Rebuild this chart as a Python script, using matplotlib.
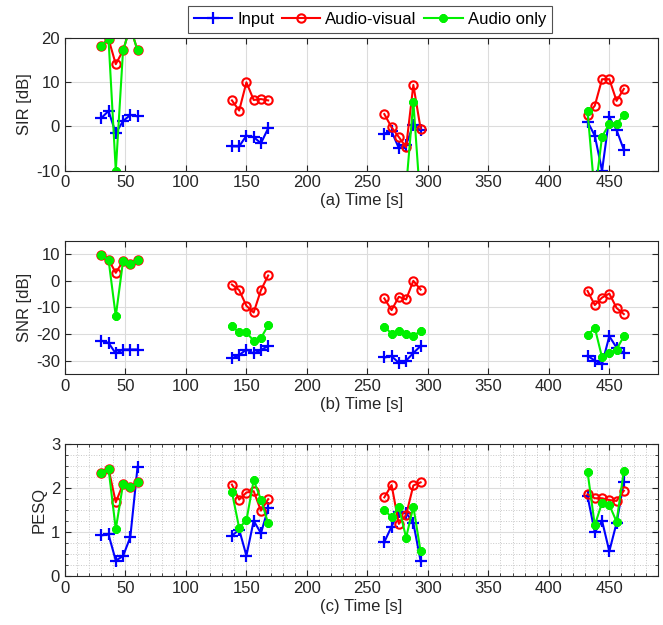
import numpy as np
import matplotlib
matplotlib.use('Agg')
import matplotlib.pyplot as plt
from matplotlib.ticker import MultipleLocator

plt.rcParams['font.family'] = ['Liberation Sans', 'DejaVu Sans']
plt.rcParams['axes.unicode_minus'] = False

# time stamps of the four recording segments [s]
times = [
    [30, 36, 42, 48, 54, 60],
    [138, 144, 150, 156, 162, 168],
    [264, 270, 276, 282, 288, 294],
    [432, 438, 444, 450, 456, 462],
]

# SIR [dB]
sir_input = [
    [1.9, 3.5, -1.5, 1.2, 2.6, 2.3],
    [-4.5, -4.5, -2.1, -2.4, -3.8, -0.4],
    [-1.6, -1.1, -4.9, -4.2, 0.4, -0.9],
    [1.1, -2.1, -10.0, 2.1, -0.8, -5.3],
]
sir_av = [
    [18.3, 19.8, 14.1, 17.2, 22.5, 17.2],
    [5.9, 3.6, 10.0, 6.0, 6.2, 5.9],
    [2.8, -0.2, -2.4, -4.7, 9.4, -0.5],
    [2.6, 4.7, 10.7, 10.7, 5.8, 8.5],
]
sir_ao = [
    [18.3, 19.8, -10.0, 17.2, 22.5, 17.2],
    [np.nan] * 6,
    [-16.0, -18.0, -20.0, -13.9, 5.6, -17.8],
    [3.4, -15.5, -2.3, 0.6, 0.6, 2.6],
]

# SNR [dB]
snr_input = [
    [-22.5, -23.3, -27.3, -25.8, -25.8, -25.8],
    [-29.1, -27.9, -25.8, -27.3, -26.0, -24.5],
    [-28.8, -28.3, -30.8, -30.0, -27.1, -24.5],
    [-28.1, -30.0, -31.3, -20.8, -25.1, -27.1],
]
snr_av = [
    [9.6, 8.0, 3.0, 7.4, 6.5, 8.0],
    [-1.4, -3.5, -9.4, -11.9, -3.5, 2.0],
    [-6.6, -11.0, -6.0, -7.0, 0.0, -3.3],
    [-3.8, -9.1, -6.3, -4.8, -10.2, -12.5],
]
snr_ao = [
    [9.6, 8.0, -13.3, 7.4, 6.5, 8.0],
    [-17.1, -19.3, -19.3, -22.6, -21.5, -16.7],
    [-17.3, -19.8, -18.8, -20.1, -20.7, -18.8],
    [-20.5, -17.6, -28.8, -27.1, -25.8, -20.8],
]

# PESQ
pesq_input = [
    [0.92, 0.94, 0.35, 0.45, 0.88, 2.47],
    [0.91, 1.05, 0.46, 1.25, 0.97, 1.53],
    [0.77, 1.12, 1.46, 1.43, 1.20, 0.34],
    [1.81, 0.99, 1.25, 0.56, 1.20, 2.12],
]
pesq_av = [
    [2.33, 2.43, 1.67, 2.08, 2.01, 2.12],
    [2.07, 1.73, 1.89, 1.92, 1.48, 1.74],
    [1.78, 2.06, 1.18, 1.38, 2.05, 2.12],
    [1.85, 1.76, 1.76, 1.72, 1.70, 1.93],
]
pesq_ao = [
    [2.33, 2.43, 1.06, 2.08, 2.01, 2.12],
    [1.90, 1.09, 1.26, 2.17, 1.73, 1.19],
    [1.50, 1.33, 1.56, 0.87, 1.57, 0.56],
    [2.36, 1.15, 1.66, 1.61, 1.23, 2.38],
]

labels = ['Input', 'Audio-visual', 'Audio only']
dark = '#262626'

styles = [
    dict(color='#0000ff', marker='+', markersize=8, markeredgewidth=1.6),
    dict(color='#ff0000', marker='o', markersize=6, markerfacecolor='none',
         markeredgewidth=1.5),
    dict(color='#00f000', marker=(8, 2, 0), markersize=6, markeredgewidth=2.2),
]


def draw_panel(ax, series, ylim, yticks, ylabel, xlabel, minor=False):
    for s, (data, st) in enumerate(zip(series, styles)):
        for k, (t, v) in enumerate(zip(times, data)):
            ax.plot(t, v, linewidth=1.5, label=labels[s] if k == 0 else None,
                    **st)
    ax.set_xlim(0, 490)
    ax.set_ylim(*ylim)
    ax.set_xticks(np.arange(0, 451, 50))
    ax.set_yticks(yticks)
    ax.set_ylabel(ylabel, fontsize=12, color=dark, labelpad=3)
    ax.set_xlabel(xlabel, fontsize=12, color=dark, labelpad=2)
    ax.tick_params(direction='in', top=True, right=True, labelsize=12,
                   colors=dark, length=4, width=0.8)
    ax.grid(True, which='major', color='#dcdcdc', linewidth=0.8)
    if minor:
        ax.xaxis.set_minor_locator(MultipleLocator(10))
        ax.yaxis.set_minor_locator(MultipleLocator(0.25))
        ax.tick_params(which='minor', direction='in', top=True, right=True,
                       length=2, colors=dark)
        ax.grid(True, which='minor', color='#c8c8c8', linestyle=':',
                linewidth=0.7)
    ax.set_axisbelow(True)
    for sp in ax.spines.values():
        sp.set_color(dark)
        sp.set_linewidth(0.8)


fig = plt.figure(figsize=(6.63, 6.25), dpi=100)
left, width = 0.098, 0.894
ax1 = fig.add_axes([left, 0.727, width, 0.212])
ax2 = fig.add_axes([left, 0.4016, width, 0.213])
ax3 = fig.add_axes([left, 0.0784, width, 0.212])

draw_panel(ax1, [sir_input, sir_av, sir_ao], (-10, 20), [-10, 0, 10, 20],
           'SIR [dB]', '(a) Time [s]')
draw_panel(ax2, [snr_input, snr_av, snr_ao], (-35, 15), [-30, -20, -10, 0, 10],
           'SNR [dB]', '(b) Time [s]')
draw_panel(ax3, [pesq_input, pesq_av, pesq_ao], (0, 3), [0, 1, 2, 3],
           'PESQ', '(c) Time [s]', minor=True)

leg = fig.legend(*ax1.get_legend_handles_labels(), loc='upper center',
                 bbox_to_anchor=(0.558, 0.99), ncol=3, fontsize=12,
                 frameon=True, fancybox=False, edgecolor=dark,
                 handlelength=2.3, handletextpad=0.3, columnspacing=0.45,
                 borderpad=0.35, borderaxespad=0)
leg.get_frame().set_linewidth(0.8)

plt.savefig('out.png', dpi=100)
plt.close()
